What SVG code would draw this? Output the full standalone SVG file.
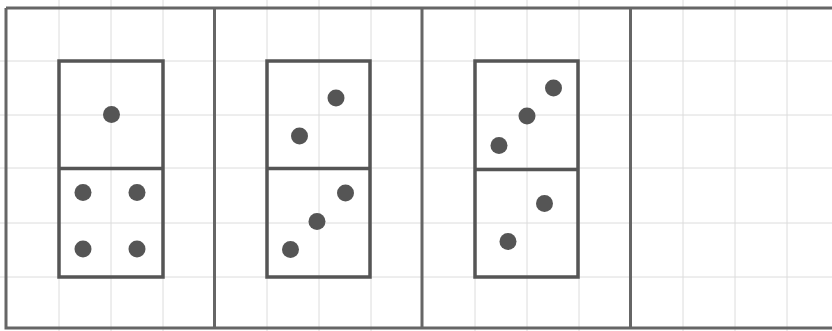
<svg xmlns="http://www.w3.org/2000/svg" width="832" height="331" viewBox="0 0 832 331">
<style>
.grid{stroke:#dcdcdc;stroke-width:1;fill:none}
.frame{stroke:#666;stroke-width:3;fill:none}
.domino{stroke:#555;stroke-width:3.5;fill:none}
.pip{fill:#555}
</style>
<rect width="832" height="331" fill="#fff"/>
<g id="grid" class="grid">
<path d="M59 0V331M111 0V331M163 0V331M267 0V331M319 0V331M371 0V331M475 0V331M527 0V331M579 0V331M683 0V331M735 0V331M787 0V331"/>
<path d="M0 61H832M0 115H832M0 168H832M0 223H832M0 277H832"/>
</g>
<g id="frame" class="frame">
<path d="M6 8H832M6 8V328H832M214.5 8V328M422 8V328M630.5 8V328"/>
</g>
<g id="domino1">
<rect class="domino" x="59" y="61" width="104" height="216"/>
<line class="domino" x1="59" y1="168.5" x2="163" y2="168.5"/>
<circle class="pip" cx="111.5" cy="114.5" r="8.5"/>
<circle class="pip" cx="83" cy="192.5" r="8.5"/>
<circle class="pip" cx="137" cy="192.5" r="8.5"/>
<circle class="pip" cx="83" cy="249" r="8.5"/>
<circle class="pip" cx="137" cy="249" r="8.5"/>
</g>
<g id="domino2">
<rect class="domino" x="267" y="61" width="103" height="216"/>
<line class="domino" x1="267" y1="168.5" x2="370" y2="168.5"/>
<circle class="pip" cx="336" cy="98" r="8.5"/>
<circle class="pip" cx="299.5" cy="136" r="8.5"/>
<circle class="pip" cx="345.5" cy="193" r="8.5"/>
<circle class="pip" cx="317" cy="221.5" r="8.5"/>
<circle class="pip" cx="290.5" cy="249.5" r="8.5"/>
</g>
<g id="domino3">
<rect class="domino" x="475" y="61" width="103" height="216"/>
<line class="domino" x1="475" y1="169.5" x2="578" y2="169.5"/>
<circle class="pip" cx="553.5" cy="88" r="8.5"/>
<circle class="pip" cx="527" cy="116" r="8.5"/>
<circle class="pip" cx="499" cy="145.5" r="8.5"/>
<circle class="pip" cx="544.5" cy="203.5" r="8.5"/>
<circle class="pip" cx="508" cy="241.5" r="8.5"/>
</g>
</svg>
